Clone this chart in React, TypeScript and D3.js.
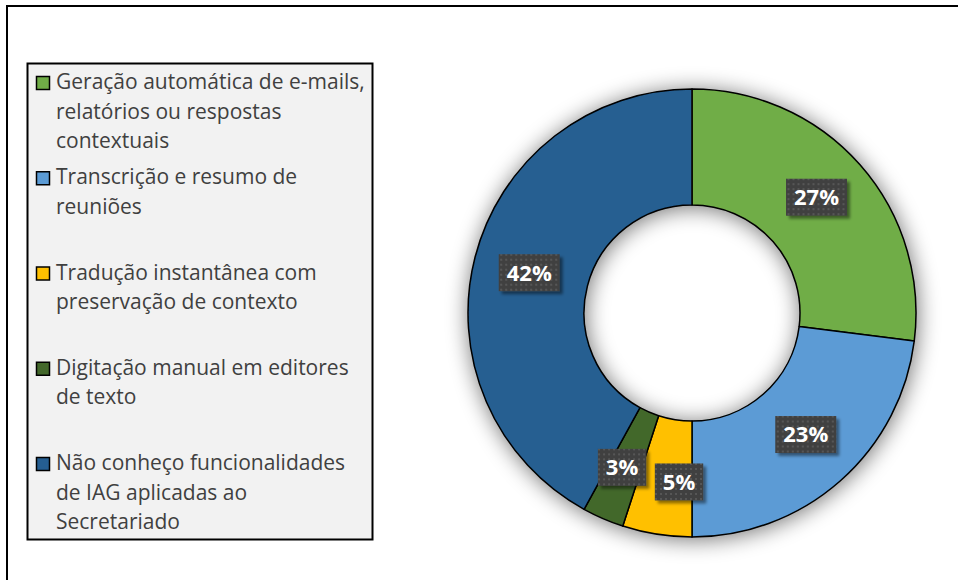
import { useEffect, useRef } from "react";
import * as d3 from "d3";

// legend labels, already broken into lines like the original
const categories = [
  ["Geração automática de e-mails,", "relatórios ou respostas", "contextuais"],
  ["Transcrição e resumo de", "reuniões"],
  ["Tradução instantânea com", "preservação de contexto"],
  ["Digitação manual em editores", "de texto"],
  ["Não conheço funcionalidades", "de IAG aplicadas ao", "Secretariado"],
];
const values = [27, 23, 5, 3, 42];
const colors = ["#70AD47", "#5B9BD5", "#FFC000", "#43682B", "#255E91"];
// Excel pushed the small labels apart a little
const labelNudge = [[0, -6], [4, -3], [13, 5], [-4, 2], [-2, 1]];

const W = 958;
const H = 580;

export default function App() {
  const ref = useRef<SVGSVGElement>(null);

  useEffect(() => {
    const svg = d3.select(ref.current);
    svg.selectAll("*").remove();

    const defs = svg.append("defs");

    const glow = defs.append("filter").attr("id", "donutShadow")
      .attr("x", "-25%").attr("y", "-25%").attr("width", "150%").attr("height", "150%");
    glow.append("feGaussianBlur").attr("in", "SourceAlpha").attr("stdDeviation", 11).attr("result", "blur");
    glow.append("feOffset").attr("in", "blur").attr("dx", 1).attr("dy", 2).attr("result", "off");
    glow.append("feComponentTransfer").attr("in", "off").attr("result", "soft")
      .append("feFuncA").attr("type", "linear").attr("slope", 0.55);
    const gm = glow.append("feMerge");
    gm.append("feMergeNode").attr("in", "soft");
    gm.append("feMergeNode").attr("in", "SourceGraphic");

    const boxShadow = defs.append("filter").attr("id", "boxShadow")
      .attr("x", "-20%").attr("y", "-20%").attr("width", "150%").attr("height", "150%");
    boxShadow.append("feDropShadow").attr("dx", 3).attr("dy", 3).attr("stdDeviation", 1.6)
      .attr("flood-color", "#000").attr("flood-opacity", 0.45);

    const pat = defs.append("pattern").attr("id", "dots")
      .attr("width", 5).attr("height", 5).attr("patternUnits", "userSpaceOnUse");
    pat.append("rect").attr("width", 5).attr("height", 5).attr("fill", "#404040");
    pat.append("rect").attr("x", 1).attr("y", 1).attr("width", 2).attr("height", 2).attr("fill", "#575757");

    // outer frame
    svg.append("rect")
      .attr("x", 7).attr("y", 6).attr("width", 1000).attr("height", 1000)
      .attr("fill", "white").attr("stroke", "#000").attr("stroke-width", 2);

    // legend
    const legend = svg.append("g");
    legend.append("rect")
      .attr("x", 27.5).attr("y", 63.5).attr("width", 345).attr("height", 476)
      .attr("fill", "#F2F2F2").attr("stroke", "#000").attr("stroke-width", 2);

    const entryY = d3.scalePoint<number>()
      .domain(d3.range(categories.length))
      .range([89, 470]);
    const lineH = 29.5;

    categories.forEach((lines, i) => {
      const y0 = entryY(i)!;
      legend.append("rect")
        .attr("x", 36.5).attr("y", y0 - 12.5).attr("width", 13).attr("height", 13)
        .attr("fill", colors[i]).attr("stroke", "#000").attr("stroke-width", 1.5);
      const t = legend.append("text")
        .attr("x", 56).attr("y", y0)
        .attr("font-family", "'Open Sans', 'Noto Sans', sans-serif")
        .attr("font-size", 21)
        .attr("fill", "#404040");
      lines.forEach((ln, j) => {
        t.append("tspan").attr("x", 56).attr("y", y0 + j * lineH).text(ln);
      });
    });

    // donut
    const cx = 692;
    const cy = 313;
    const outerR = 224;
    const innerR = 108;

    const pie = d3.pie<number>().sort(null).value(d => d);
    const arcs = pie(values);
    const arc = d3.arc<d3.PieArcDatum<number>>().innerRadius(innerR).outerRadius(outerR);

    const donut = svg.append("g").attr("transform", `translate(${cx},${cy})`);
    donut.append("g").attr("filter", "url(#donutShadow)")
      .selectAll("path")
      .data(arcs)
      .join("path")
      .attr("d", arc)
      .attr("fill", (_, i) => colors[i])
      .attr("stroke", "#000")
      .attr("stroke-width", 1.5)
      .attr("stroke-linejoin", "round");

    // data labels
    const labels = donut.append("g");
    arcs.forEach((a, i) => {
      const [lx, ly] = arc.centroid(a);
      const x = lx + labelNudge[i][0];
      const y = ly + labelNudge[i][1];
      const g = labels.append("g").attr("transform", `translate(${x},${y})`);
      const box = g.append("rect").attr("fill", "url(#dots)").attr("filter", "url(#boxShadow)");
      const txt = g.append("text")
        .attr("text-anchor", "middle")
        .attr("dy", "0.36em")
        .attr("font-family", "'Open Sans', sans-serif")
        .attr("font-weight", "bold")
        .attr("font-size", 22)
        .attr("fill", "#fff")
        .text(`${values[i]}%`);
      const tw = (txt.node() as SVGTextElement).getComputedTextLength();
      const bw = tw + 16;
      const bh = 37;
      box.attr("x", -bw / 2).attr("y", -bh / 2).attr("width", bw).attr("height", bh);
    });
  }, []);

  return (
    <svg
      ref={ref}
      width={W}
      height={H}
      style={{ position: "absolute", left: 0, top: 0, background: "#fff" }}
    />
  );
}
